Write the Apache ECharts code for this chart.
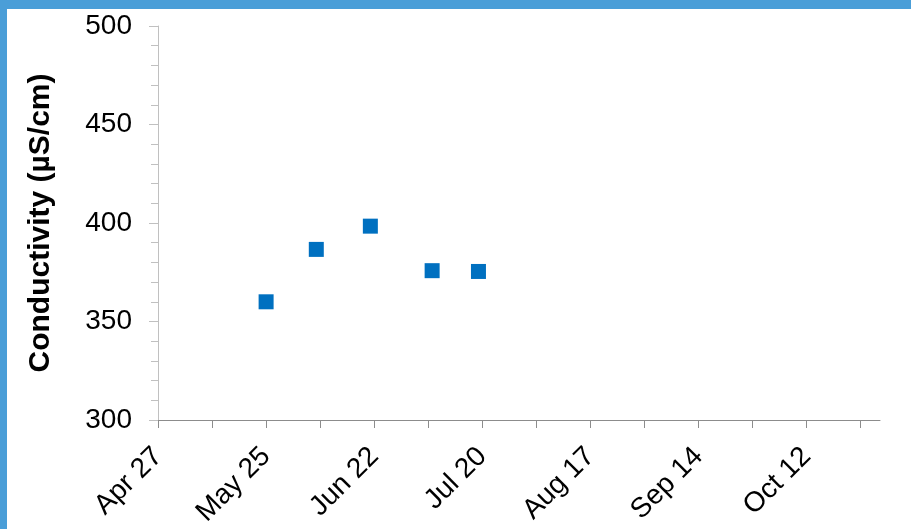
<!DOCTYPE html>
<html>
<head>
<meta charset="utf-8">
<title>Conductivity</title>
<script src="https://cdn.jsdelivr.net/npm/echarts@6/dist/echarts.min.js"></script>
<style>
    html, body { margin: 0; padding: 0; background: #fff; }
    #wrap { position: relative; width: 911px; height: 529px; overflow: hidden; }
    #chart { position: absolute; left: 0; top: 0; width: 911px; height: 529px; }
    .edgeTop { position: absolute; left: 0; top: 0; width: 911px; height: 9px; background: #4a9ed8; }
    .edgeLeft { position: absolute; left: 0; top: 0; width: 7px; height: 529px; background: #4a9ed8; }
</style>
</head>
<body>
<div id="wrap">
    <div id="chart"></div>
    <div class="edgeTop"></div>
    <div class="edgeLeft"></div>
</div>
<script>
// sample dates and conductivity readings
const sampleDates = ['2019-05-25', '2019-06-07', '2019-06-21', '2019-07-07', '2019-07-19']
const conductivity = [360, 386.6, 398.4, 375.8, 375.4]

// x axis: date range, ticks every 14 days, labels every 28 days
const axisStart = '2019-04-27'
const axisEnd = '2019-10-31'
const tickDays = 14
const labelDays = 28

// y axis
const yMin = 300
const yMax = 500
const yStep = 50

const monthNames = ['Jan', 'Feb', 'Mar', 'Apr', 'May', 'Jun', 'Jul', 'Aug', 'Sep', 'Oct', 'Nov', 'Dec']
const dayMs = 24 * 3600 * 1000
const startMs = Date.parse(axisStart + 'T00:00:00Z')
const toDay = (s) => Math.round((Date.parse(s + 'T00:00:00Z') - startMs) / dayMs)
const spanDays = toDay(axisEnd)

const tickVals = []
for (let d = 0; d < spanDays; d += tickDays) tickVals.push(d)
const labelVals = tickVals.filter(d => d % labelDays === 0)

const fmtDay = (d) => {
    const dt = new Date(startMs + d * dayMs)
    return monthNames[dt.getUTCMonth()] + ' ' + dt.getUTCDate()
}

const points = sampleDates.map((s, i) => [toDay(s), conductivity[i]])

const chart = echarts.init(document.getElementById('chart'), null, { renderer: 'canvas' })
const font = '"Liberation Sans", Arial, sans-serif'

const option = {
    animation: false,
    backgroundColor: '#fff',
    grid: {
        left: 158,
        right: 31,
        top: 26,
        bottom: 109,
        containLabel: false
    },
    xAxis: {
        type: 'value',
        min: 0,
        max: spanDays,
        splitLine: { show: false },
        axisLine: { show: true, lineStyle: { color: '#8c8c8c', width: 1 } },
        axisTick: {
            show: true,
            length: 8,
            customValues: tickVals,
            lineStyle: { color: '#8c8c8c' }
        },
        axisLabel: {
            customValues: labelVals,
            rotate: 45,
            margin: 32,
            color: '#000',
            fontSize: 28,
            fontFamily: font,
            formatter: (v) => fmtDay(v)
        }
    },
    yAxis: {
        type: 'value',
        min: yMin,
        max: yMax,
        interval: yStep,
        name: 'Conductivity (µS/cm)',
        nameLocation: 'middle',
        nameGap: 102,
        nameTextStyle: {
            color: '#000',
            fontSize: 30,
            fontWeight: 'bold',
            fontFamily: font
        },
        splitLine: { show: false },
        axisLine: { show: true, lineStyle: { color: '#c0c0c0', width: 1 } },
        axisTick: { show: true, length: 9, lineStyle: { color: '#c0c0c0' } },
        minorTick: { show: true, splitNumber: 5, length: 7, lineStyle: { color: '#c0c0c0' } },
        axisLabel: {
            margin: 26,
            color: '#000',
            fontSize: 28,
            fontFamily: font
        }
    },
    series: [{
        type: 'scatter',
        data: points,
        symbol: 'rect',
        symbolSize: 15,
        itemStyle: { color: '#0070c0', opacity: 1 }
    }]
}

chart.setOption(option)
</script>
</body>
</html>
